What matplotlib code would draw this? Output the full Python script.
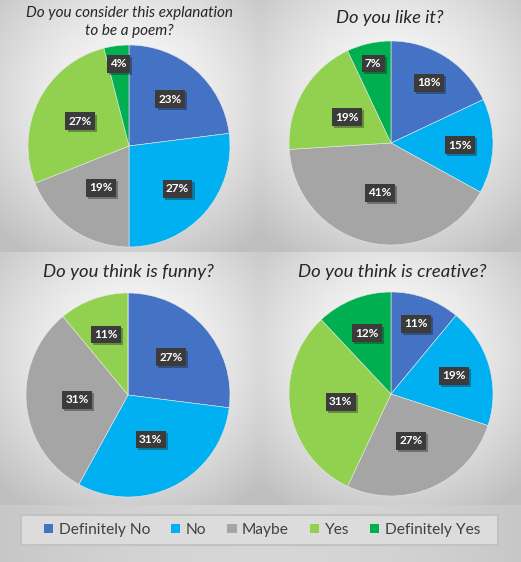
import numpy as np
import matplotlib
matplotlib.use("Agg")
import matplotlib.pyplot as plt
from matplotlib.patches import Patch, Rectangle
import matplotlib.patheffects as pe

W, H = 521, 562

categories = ["Definitely No", "No", "Maybe", "Yes", "Definitely Yes"]
colors = ["#4472C4", "#00B0F0", "#A5A5A5", "#92D050", "#00B050"]

titles = [
    "Do you consider this explanation\nto be a poem?",
    "Do you like it?",
    "Do you think is funny?",
    "Do you think is creative?",
]
poem = [23, 27, 19, 27, 4]
like = [18, 15, 41, 19, 7]
funny = [27, 31, 31, 11, 0]
creative = [11, 19, 27, 31, 12]
series = [poem, like, funny, creative]

# layout (pixels): pie centre, radius, title centre, title size, label radii
pies = [
    dict(c=(129, 146), r=101, t=(129, 22), fs=11.0, lr=[0.62, 0.64, 0.5, 0.54, 0.82]),
    dict(c=(391, 143), r=102, t=(390, 18), fs=13.2, lr=[0.7, 0.68, 0.5, 0.5, 0.8]),
    dict(c=(128, 395), r=102, t=(128, 272), fs=13.3, lr=[0.56, 0.49, 0.5, 0.63, 0.8]),
    dict(c=(391, 394), r=102, t=(392, 272), fs=13.3, lr=[0.73, 0.64, 0.5, 0.5, 0.64]),
]
panels = [(0, 0, 260, 252), (260, 0, 261, 252), (0, 252, 260, 253), (260, 252, 261, 253)]

fig = plt.figure(figsize=(W / 100, H / 100), dpi=100)

# background: radial gradient per panel, plus the legend strip
img = np.zeros((H, W))
yy, xx = np.mgrid[0:H, 0:W]
for (x0, y0, w, h) in panels:
    cx, cy = x0 + w / 2, y0 + h * 0.4
    d = np.sqrt(((xx - cx) / (w / 2)) ** 2 + ((yy - cy) / (h / 2)) ** 2) / 1.45
    v = 0.99 - 0.24 * np.clip(d, 0, 1) ** 1.5
    m = (xx >= x0) & (xx < x0 + w) & (yy >= y0) & (yy < y0 + h)
    img[m] = v[m]
m = yy >= 505
d = np.abs(xx - W / 2) / (W / 2)
img[m] = (0.84 - 0.06 * d ** 2)[m]
bg = fig.add_axes([0, 0, 1, 1])
bg.imshow(np.dstack([img] * 3), extent=(0, W, H, 0), aspect="auto", interpolation="bilinear")
bg.set_xlim(0, W)
bg.set_ylim(H, 0)
bg.axis("off")

for vals, p, title in zip(series, pies, titles):
    cx, cy = p["c"]
    r = p["r"]
    ax = fig.add_axes([(cx - r) / W, 1 - (cy + r) / H, 2 * r / W, 2 * r / H])
    wedges, _ = ax.pie(vals, colors=colors, startangle=90, counterclock=False,
                       radius=1, wedgeprops=dict(linewidth=0.4, edgecolor="#e8e8e8", clip_on=False))
    ax.set_xlim(-1, 1)
    ax.set_ylim(-1, 1)
    ax.set_aspect("equal")
    ax.axis("off")
    for wdg, v, lr in zip(wedges, vals, p["lr"]):
        if v == 0:
            continue
        ang = np.deg2rad((wdg.theta1 + wdg.theta2) / 2)
        t = ax.text(lr * np.cos(ang), lr * np.sin(ang), f"{v}%", ha="center", va="center",
                    color="white", fontsize=8.5, fontweight="bold", family="Lato",
                    bbox=dict(boxstyle="square,pad=0.28", facecolor="#3b3b3b", edgecolor="none"))
        t.get_bbox_patch().set_path_effects([pe.withSimplePatchShadow(offset=(1.5, -1.5), alpha=0.35)])
    fig.text(p["t"][0] / W, 1 - p["t"][1] / H, title, ha="center", va="center",
             fontsize=p["fs"], style="italic", family="Lato", color="#262626",
             linespacing=1.45)

# legend box
bg.add_patch(Rectangle((21, 515), 477, 30, facecolor="#dcdcdc", edgecolor="#c2c2c2", linewidth=1.5))
handles = [Patch(facecolor=c, edgecolor="none") for c in colors]
leg = fig.legend(handles, categories, loc="center", bbox_to_anchor=(262 / W, 1 - 530 / H),
                 ncol=5, frameon=False, handlelength=0.6, handleheight=0.6,
                 handletextpad=0.35, columnspacing=1.35, prop=dict(family="Lato", size=11.2))
for txt in leg.get_texts():
    txt.set_color("#404040")

fig.savefig("out.png", dpi=100)
